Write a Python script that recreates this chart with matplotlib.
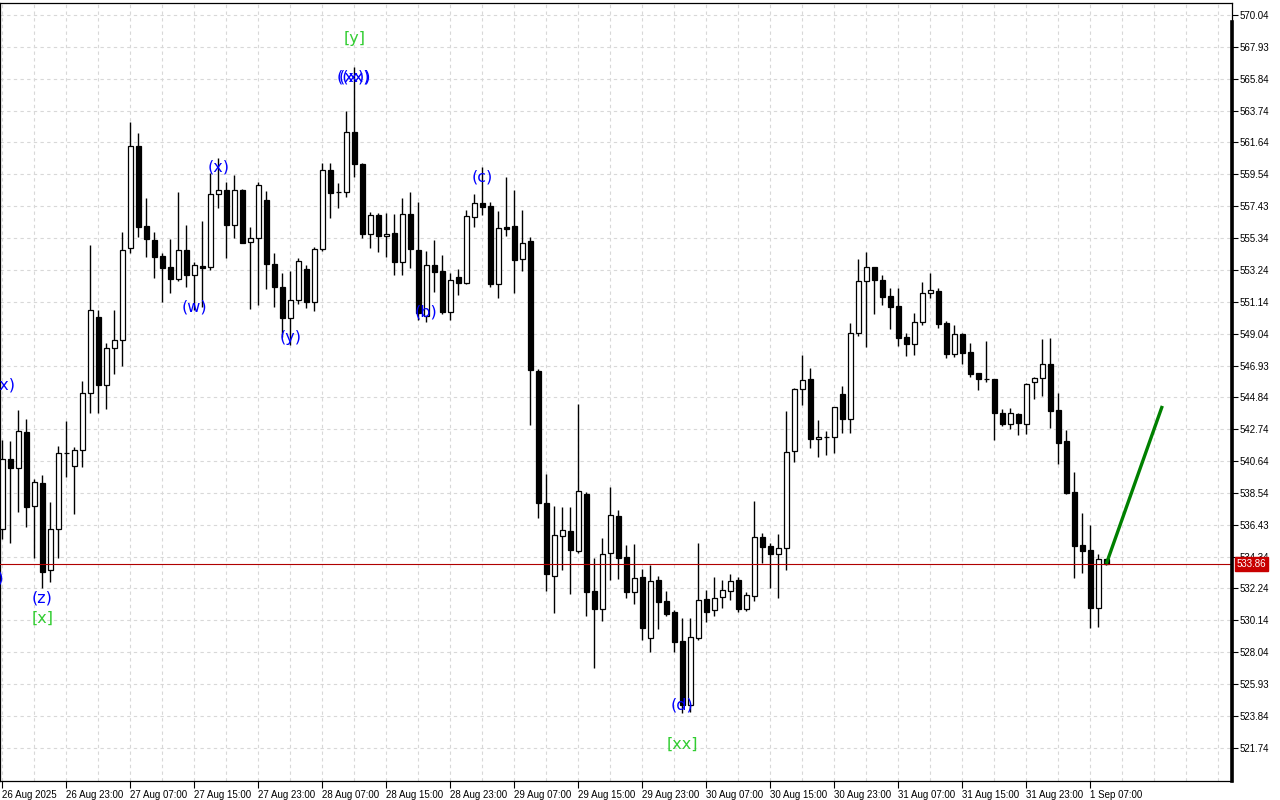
import matplotlib
matplotlib.use("Agg")
import matplotlib.pyplot as plt
from matplotlib.lines import Line2D
import matplotlib.transforms as mtransforms

# ---------------- data (hourly bars, bar 0 = 26 Aug 15:00) ----------------
opens = [536.16, 540.75, 540.16, 542.55, 537.65, 539.17, 533.43, 536.14, 541.15, 540.33,
         541.34, 545.10, 550.10, 545.63, 548.10, 548.60, 554.66, 561.40, 556.13, 555.21,
         554.17, 553.43, 552.62, 554.53, 552.88, 553.49, 553.41, 558.22, 558.48, 556.22,
         558.50, 555.06, 555.32, 557.84, 553.61, 552.11, 550.05, 551.25, 553.30, 551.14,
         554.59, 559.82, 558.35, 558.39, 562.31, 560.20, 555.58, 556.86, 555.47, 555.65,
         553.74, 556.90, 554.55, 550.20, 553.56, 553.16, 550.48, 552.75, 552.39, 556.74,
         557.67, 557.45, 552.33, 556.06, 556.13, 553.98, 555.14, 546.57, 537.85, 533.08,
         535.72, 536.03, 534.73, 538.46, 532.07, 530.86, 534.56, 537.01, 534.33, 531.98,
         532.97, 528.95, 532.80, 531.43, 530.71, 528.77, 524.56, 528.95, 531.54, 530.82,
         531.65, 532.09, 532.80, 530.88, 531.76, 535.63, 535.06, 534.49, 534.88, 541.32,
         545.37, 546.05, 542.07, 542.20, 542.20, 545.04, 543.39, 549.06, 552.49, 553.41,
         552.55, 551.50, 550.86, 548.81, 548.37, 549.78, 551.69, 551.85, 549.72, 547.67,
         549.01, 547.83, 546.42, 546.03, 546.03, 543.78, 543.10, 543.72, 543.10, 545.83,
         546.13, 547.03, 544.00, 541.96, 538.58, 535.10, 534.77, 530.93, 534.16]
highs = [542.00, 541.96, 544.00, 543.39, 539.47, 539.72, 537.94, 541.63, 543.28, 541.54,
         545.90, 554.90, 550.60, 548.40, 550.60, 555.76, 562.99, 562.24, 557.96, 555.76,
         554.33, 555.27, 558.35, 556.20, 553.78, 556.46, 559.60, 560.59, 559.05, 559.49,
         558.55, 556.08, 559.01, 558.44, 554.37, 553.01, 553.18, 554.04, 553.56, 554.77,
         560.30, 560.26, 558.95, 563.73, 566.63, 560.26, 557.07, 556.97, 556.97, 556.92,
         557.96, 558.35, 557.69, 554.50, 555.21, 554.22, 553.01, 553.32, 557.19, 558.22,
         560.04, 557.69, 557.12, 559.38, 558.50, 557.19, 555.39, 546.70, 539.76, 537.67,
         537.61, 537.63, 544.40, 538.59, 534.23, 535.54, 538.91, 537.41, 535.10, 535.15,
         533.50, 533.78, 533.06, 532.07, 530.82, 530.27, 530.27, 535.21, 532.14, 532.97,
         532.80, 533.19, 532.97, 532.02, 538.00, 535.91, 535.21, 535.83, 543.94, 545.47,
         547.63, 546.77, 543.34, 542.62, 544.22, 545.58, 549.72, 553.94, 554.40, 553.45,
         552.90, 552.02, 552.02, 549.06, 550.42, 552.44, 553.05, 552.02, 549.89, 549.60,
         549.10, 548.40, 546.46, 548.57, 546.05, 544.07, 544.11, 543.78, 545.80, 546.20,
         548.68, 548.73, 545.14, 542.68, 539.89, 537.19, 536.42, 534.51, 534.20]
lows = [535.50, 535.21, 537.30, 536.31, 534.23, 532.25, 532.68, 534.23, 539.60, 537.15,
        540.22, 543.78, 543.82, 544.05, 546.40, 546.90, 554.37, 555.43, 554.11, 552.68,
        551.14, 551.69, 552.50, 552.13, 550.60, 550.80, 553.23, 557.30, 554.04, 555.36,
        554.99, 550.66, 550.92, 551.98, 550.81, 548.83, 548.29, 550.97, 550.71, 550.55,
        554.50, 556.68, 557.34, 558.06, 559.38, 555.32, 554.66, 554.44, 554.07, 552.90,
        552.90, 553.34, 549.93, 549.82, 551.80, 550.33, 549.93, 551.58, 552.31, 556.08,
        556.86, 552.13, 551.40, 555.47, 551.73, 553.16, 543.01, 536.90, 532.07, 530.64,
        533.45, 531.88, 534.55, 530.44, 526.97, 530.11, 532.80, 532.86, 531.63, 531.19,
        528.84, 528.03, 529.57, 530.44, 528.03, 524.01, 524.12, 528.84, 530.00, 530.42,
        530.93, 531.48, 530.70, 530.75, 531.43, 533.90, 532.25, 531.63, 533.45, 540.59,
        544.33, 541.52, 540.92, 541.04, 541.15, 542.51, 542.47, 548.90, 548.17, 550.33,
        550.92, 549.34, 548.22, 547.56, 547.63, 549.60, 551.40, 549.39, 547.41, 547.52,
        547.01, 546.20, 545.32, 545.87, 542.02, 542.97, 542.77, 542.37, 542.44, 544.73,
        544.95, 542.84, 540.44, 538.46, 532.91, 533.28, 529.61, 529.68, 533.80]
closes = [540.77, 540.16, 542.60, 537.63, 539.24, 533.34, 536.14, 541.15, 541.20, 541.34,
          545.10, 550.60, 545.65, 548.10, 548.60, 554.55, 561.40, 556.04, 555.25, 554.11,
          553.38, 552.62, 554.53, 552.92, 553.54, 553.34, 558.22, 558.48, 556.22, 558.48,
          555.03, 555.32, 558.83, 553.61, 552.13, 550.05, 551.25, 553.82, 551.14, 554.59,
          559.82, 558.33, 558.40, 562.31, 560.20, 555.58, 556.86, 555.49, 555.60, 553.74,
          556.90, 554.59, 550.38, 553.54, 553.12, 550.48, 552.57, 552.39, 556.79, 557.63,
          557.40, 552.31, 555.98, 555.95, 553.89, 554.99, 546.64, 537.89, 533.17, 535.74,
          536.07, 534.77, 538.66, 531.98, 530.86, 534.49, 537.06, 534.27, 532.03, 532.91,
          529.65, 532.73, 531.37, 530.57, 528.73, 524.56, 529.02, 531.48, 530.69, 531.59,
          532.14, 532.75, 530.88, 531.79, 535.63, 534.99, 534.53, 534.88, 541.21, 545.37,
          545.96, 542.11, 542.24, 542.25, 544.18, 543.39, 549.06, 552.51, 553.41, 552.59,
          551.47, 550.81, 548.77, 548.37, 549.78, 551.69, 551.89, 549.65, 547.67, 548.99,
          547.78, 546.37, 546.03, 546.06, 543.78, 543.10, 543.78, 543.17, 545.72, 546.09,
          547.03, 543.96, 541.85, 538.51, 535.04, 534.73, 530.93, 534.16, 533.86]

time_labels = ["26 Aug 2025", "26 Aug 23:00", "27 Aug 07:00", "27 Aug 15:00", "27 Aug 23:00",
               "28 Aug 07:00", "28 Aug 15:00", "28 Aug 23:00", "29 Aug 07:00", "29 Aug 15:00",
               "29 Aug 23:00", "30 Aug 07:00", "30 Aug 15:00", "30 Aug 23:00", "31 Aug 07:00",
               "31 Aug 15:00", "31 Aug 23:00", "1 Sep 07:00"]
price_ticks = [570.04, 567.93, 565.84, 563.74, 561.64, 559.54, 557.43, 555.34, 553.24, 551.14,
               549.04, 546.93, 544.84, 542.74, 540.64, 538.54, 536.43, 534.34, 532.24, 530.14,
               528.04, 525.93, 523.84, 521.74]
current_price = 533.86

# wave labels: text, bar index, price, colour key
wave_text = ["(x)", "(w)", "(z)", "[x]", "(w)", "(x)", "(y)", "((x))", "(xx)", "[y]",
             "(b)", "(c)", "(d)", "[xx]"]
wave_bar = [0.35, -1.3, 5, 5, 24, 27, 36, 44, 44, 44, 53, 60, 85, 85]
wave_price = [545.65, 532.93, 531.61, 530.29, 550.79, 560.02, 548.75, 565.95, 565.95, 568.52,
              550.46, 559.36, 524.55, 521.98]
wave_kind = ["b", "b", "b", "g", "b", "b", "b", "b", "b", "g", "b", "b", "b", "g"]

projection_bars = [138, 145]
projection_prices = [533.86, 544.27]

# ---------------- figure ----------------
W, H = 1280, 800
fig = plt.figure(figsize=(W / 100, H / 100), dpi=100)
fig.patch.set_facecolor("white")
left_px, right_px, top_px, bot_px = 0, 1232, 3, 781
ax = fig.add_axes([left_px / W, 1 - bot_px / H, (right_px - left_px) / W, (bot_px - top_px) / H])
ax.set_facecolor("white")

px_per_bar = 8.0
x0_bar = -2.3 / px_per_bar
ax.set_xlim(x0_bar, x0_bar + (right_px - left_px) / px_per_bar)
px_per_unit = 15.17
ax.set_ylim(570.04 - (bot_px - 15) / px_per_unit, 570.04 + (15 - top_px) / px_per_unit)

# grid
grid_kw = dict(color="#d8d8d8", lw=0.8, linestyle=(0, (3, 3)), zorder=0)
for p in price_ticks:
    ax.axhline(p, **grid_kw)
for b in range(0, 156, 4):
    ax.axvline(b, **grid_kw)

# candles
n = len(opens)
for i in range(n):
    o, h, l, c = opens[i], highs[i], lows[i], closes[i]
    ax.vlines(i, l, h, color="black", lw=1.0, zorder=2)
    bull = c >= o
    lo, hi = min(o, c), max(o, c)
    ax.bar(i, max(hi - lo, 0.02), bottom=lo, width=0.62,
           facecolor="white" if bull else "black", edgecolor="black", lw=0.9, zorder=3)

# current price line
ax.axhline(current_price, color="#b00000", lw=0.8, zorder=4)

# projection
ax.plot(projection_bars, projection_prices, color="#008000", lw=2.4, zorder=5,
        solid_capstyle="butt")

# wave labels
cols = {"b": "#0000ff", "g": "#32cd32"}
for t, b, p, k in zip(wave_text, wave_bar, wave_price, wave_kind):
    ax.text(b, p, t, color=cols[k], fontsize=11.5, family="DejaVu Sans",
            ha="center", va="center", zorder=6, clip_on=True)

# axes / ticks
for s in ax.spines.values():
    s.set_color("black")
    s.set_linewidth(0.9)
ax.add_line(Line2D([1.0, 1.0], [0, (bot_px - 22) / (bot_px - top_px)], transform=ax.transAxes,
                   color="black", lw=2.6, clip_on=False, zorder=10))

ax.yaxis.tick_right()
ax.set_yticks(price_ticks)
ax.set_yticklabels([f"{p:.2f}" for p in price_ticks])
ax.tick_params(axis="y", direction="out", length=4, width=0.8, pad=1.5,
               labelsize=7, colors="black")
xt = list(range(0, 8 * len(time_labels), 8))
ax.set_xticks(xt)
ax.set_xticklabels(time_labels)
ax.tick_params(axis="x", direction="out", length=5, width=0.8, pad=1.5,
               labelsize=7, colors="black")
for lbl in ax.get_xticklabels() + ax.get_yticklabels():
    lbl.set_family("Liberation Sans")
for lbl in ax.get_xticklabels():
    lbl.set_ha("left")

# current price box on the scale
trans = mtransforms.blended_transform_factory(ax.transAxes, ax.transData)
ax.text(1.0 + 5 / (right_px - left_px), current_price, f"{current_price:.2f}", transform=trans,
        ha="left", va="center", fontsize=7, family="Liberation Sans", color="white",
        bbox=dict(boxstyle="square,pad=0.18", fc="#c80000", ec="#c80000"),
        clip_on=False, zorder=20)

fig.savefig("out.png", dpi=100, facecolor="white")
